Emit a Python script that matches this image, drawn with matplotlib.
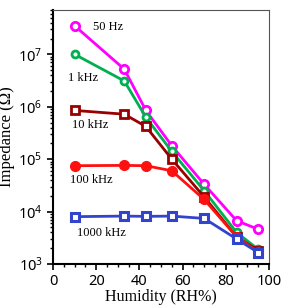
import matplotlib
matplotlib.use('Agg')
import matplotlib.pyplot as plt
from matplotlib.ticker import LogLocator, MultipleLocator, NullFormatter

# Data
humidity = [10, 33, 43, 55, 70, 85, 95]
z_50hz = [3.5e7, 5.2e6, 8.5e5, 1.8e5, 3.3e4, 6.7e3, 4.6e3]
z_1khz = [1.0e7, 3.1e6, 6.3e5, 1.4e5, 2.5e4, 4.0e3, 1.9e3]
z_10khz = [8.5e5, 7.2e5, 4.2e5, 1.0e5, 1.9e4, 3.3e3, 1.8e3]
z_100khz = [7.5e4, 7.6e4, 7.5e4, 6.0e4, 1.7e4, 3.3e3, 1.7e3]
z_1000khz = [8.0e3, 8.2e3, 8.1e3, 8.2e3, 7.4e3, 3.0e3, 1.65e3]

series_labels = ['50 Hz', '1 kHz', '10 kHz', '100 kHz', '1000 kHz']

fig = plt.figure(figsize=(2.88, 3.08), dpi=100)
ax = fig.add_axes([53/288, 44/308, 216/288, 254/308])

ax.plot(humidity, z_50hz, '-o', color='#FF00FF', lw=2, ms=6, mfc='white', mec='#FF00FF', mew=2)
ax.plot(humidity, z_1khz, '-o', color='#00B050', lw=2, ms=5, mfc='white', mec='#00B050', mew=2)
ax.plot(humidity, z_10khz, '-s', color='#990000', lw=2, ms=6, mfc='white', mec='#990000', mew=2)
ax.plot(humidity, z_100khz, '-o', color='#FF1010', lw=2, ms=7, mfc='#FF1010', mec='#FF1010')
ax.plot(humidity, z_1000khz, '-s', color='#3344CC', lw=2, ms=6, mfc='white', mec='#3344CC', mew=2.2)

serif = 'Liberation Serif'
ax.text(18.5, 3.3e7, series_labels[0], fontsize=9, family=serif, va='center')
ax.text(7, 3.5e6, series_labels[1], fontsize=9, family=serif, va='center')
ax.text(9, 4.5e5, series_labels[2], fontsize=9, family=serif, va='center')
ax.text(8, 4.0e4, series_labels[3], fontsize=9, family=serif, va='center')
ax.text(11, 3.9e3, series_labels[4], fontsize=9, family=serif, va='center')

ax.set_yscale('log')
ax.set_xlim(0, 100)
ax.set_ylim(1e3, 7e7)
ax.xaxis.set_major_locator(MultipleLocator(20))
ax.xaxis.set_minor_locator(MultipleLocator(5))
ax.yaxis.set_major_locator(LogLocator(base=10, numticks=10))
ax.yaxis.set_minor_locator(LogLocator(base=10, subs=range(2, 10), numticks=20))
ax.yaxis.set_minor_formatter(NullFormatter())
ax.tick_params(which='major', direction='out', length=4, width=1.2, labelsize=10.5)
ax.tick_params(which='minor', direction='out', length=2.5, width=1)
for lab in ax.get_xticklabels() + ax.get_yticklabels():
    lab.set_family('Noto Sans')

ax.spines['left'].set_linewidth(1.5)
ax.spines['bottom'].set_linewidth(1.5)
ax.spines['top'].set_color('#555555')
ax.spines['right'].set_color('#555555')

ax.set_xlabel('Humidity (RH%)', family=serif, fontsize=11.5, labelpad=0)
ax.set_ylabel('Impedance (\u03a9)', family=serif, fontsize=12, labelpad=2)

fig.savefig('out.png', dpi=100)
